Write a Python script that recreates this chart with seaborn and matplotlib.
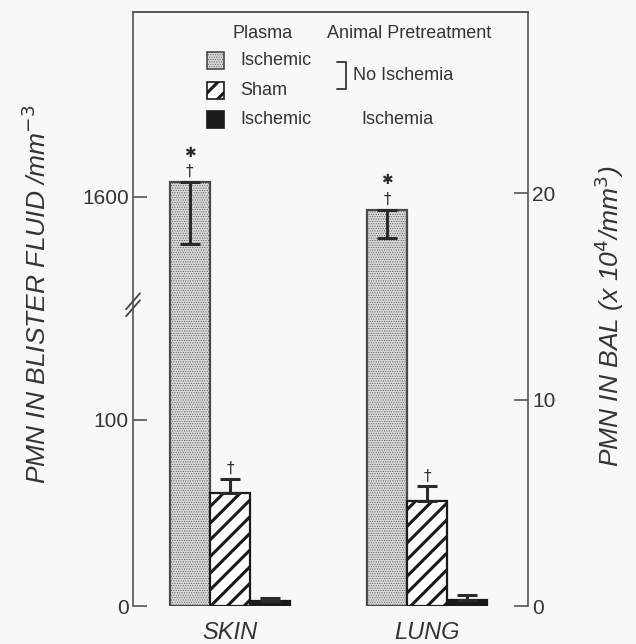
import numpy as np
import pandas as pd
import seaborn as sns
import matplotlib
matplotlib.use('Agg')
from matplotlib import pyplot as plt
from matplotlib.patches import Rectangle

sns.set_style('white')
plt.rcParams['font.family'] = ['Liberation Sans', 'DejaVu Sans']

# values
sites = ['SKIN', 'LUNG']
group_keys = ['ischemic_plasma', 'sham_plasma', 'ischemic_animal']
legend_labels = ['Ischemic', 'Sham', 'Ischemic']
skin_mean = [1660, 61, 2.5]      # PMN / mm3 in blister fluid
skin_sem = [250, 7.5, 2.0]
lung_mean = [19.2, 5.1, 0.3]     # PMN x10^4 / mm3 in BAL
lung_sem = [1.4, 0.7, 0.25]
err_side = ['down', 'up', 'up']
dagger = [True, True, False]
star = [True, False, False]
skin_ticks = [0, 100, 1600]
lung_ticks = [0, 10, 20]

ink = '#2a2a2a'
paper = '#f8f8f6'

# broken left axis: 0-100 linear, jump, then the top section around 1600
brk_v = [0, 161.8, 1168, 1600, 5000]
brk_p = [0, 301, 301.5, 409, 409 + 3400 * 0.25]


def fwd(v):
    return np.interp(v, brk_v, brk_p)


def inv(p):
    return np.interp(p, brk_p, brk_v)


bar_style = {
    'ischemic_plasma': dict(facecolor='#d8d8d8', hatch='.......', edgecolor='#4a4a4a', hlw=0.4),
    'sham_plasma': dict(facecolor='white', hatch='//', edgecolor='#1a1a1a', hlw=2.2),
    'ischemic_animal': dict(facecolor='#1a1a1a', hatch='', edgecolor='#1a1a1a', hlw=1.0),
}


def style_patch(p, key):
    st = bar_style[key]
    p.set_facecolor(st['facecolor'])
    p.set_edgecolor(st['edgecolor'])
    p.set_hatch(st['hatch'])
    if hasattr(p, 'set_hatch_linewidth'):
        p.set_hatch_linewidth(st['hlw'])


fig = plt.figure(figsize=(6.36, 6.44), dpi=100, facecolor=paper)
ax = fig.add_axes([133 / 636, 38 / 644, 395 / 636, 594 / 644])
ax.set_facecolor('none')
ax.set_yscale('function', functions=(fwd, inv))
ax2 = ax.twinx()

skin_df = pd.DataFrame({'site': 'SKIN', 'group': group_keys, 'value': skin_mean})
lung_df = pd.DataFrame({'site': 'LUNG', 'group': group_keys, 'value': lung_mean})
pal = {k: bar_style[k]['facecolor'] for k in group_keys}

for axis, df, means, sems in [(ax, skin_df, skin_mean, skin_sem), (ax2, lung_df, lung_mean, lung_sem)]:
    sns.barplot(data=df, x='site', y='value', hue='group', order=sites, hue_order=group_keys,
                palette=pal, width=0.61, errorbar=None, legend=False, saturation=1,
                linewidth=1.6, ax=axis)
    bars = sorted([p for p in axis.patches if p.get_height() > 0], key=lambda p: p.get_x())
    for bar, key, m, s, side, dg, st in zip(bars, group_keys, means, sems, err_side, dagger, star):
        style_patch(bar, key)
        xc = bar.get_x() + bar.get_width() / 2
        yerr = [[s], [0]] if side == 'down' else [[0], [s]]
        axis.errorbar(xc, m, yerr=yerr, fmt='none', ecolor=ink, elinewidth=2.2,
                      capsize=7, capthick=2.2, zorder=5)
        top = m + (s if side == 'up' else 0)
        if dg:
            axis.annotate('\u2020', (xc, top), xytext=(0, 2), textcoords='offset points',
                          ha='center', va='bottom', fontsize=11, color=ink,
                          family=['DejaVu Sans'])
        if st:
            axis.annotate('\u2731', (xc, top), xytext=(0, 16), textcoords='offset points',
                          ha='center', va='bottom', fontsize=10, color=ink,
                          family=['DejaVu Sans'])

ax.set_xlim(-0.492, 1.513)
ax.set_ylim(0, inv(594))
ax.set_yticks(skin_ticks)
ax.set_yticklabels([str(t) for t in skin_ticks])
ax2.set_ylim(0, 594 / 20.65)
ax2.set_yticks(lung_ticks)
ax2.set_yticklabels([str(t) for t in lung_ticks])

for a in (ax, ax2):
    for sp in a.spines.values():
        sp.set_color('#555555')
        sp.set_linewidth(1.2)
    a.spines['bottom'].set_visible(False)
ax.spines['right'].set_visible(False)
ax2.spines['left'].set_visible(False)

ax.tick_params(axis='y', direction='in', length=10, width=1.2, color='#555555',
               labelsize=15, pad=3, labelcolor='#333333', left=True, right=False)
ax2.tick_params(axis='y', direction='in', length=10, width=1.2, color='#555555',
                labelsize=15, pad=3, labelcolor='#333333', right=True, left=False)
ax.tick_params(axis='x', length=0, pad=11, labelsize=17, labelcolor='#333333')
for lbl in ax.get_xticklabels():
    lbl.set_style('italic')
ax.set_xlabel('')
ax2.set_xlabel('')

ax.set_ylabel('PMN IN BLISTER FLUID /mm$^{-3}$', fontsize=19, style='italic', color='#333333')
ax.yaxis.set_label_coords((37 - 133) / 395, (606 - 294) / 594)
ax.yaxis.label.set_verticalalignment('center')
ax2.set_ylabel('PMN IN BAL (x 10$^{4}$/mm$^{3}$)', fontsize=19, style='italic', color='#333333',
               rotation=90)
ax2.yaxis.set_label_coords((609 - 133) / 395, (606 - 316) / 594)
ax2.yaxis.label.set_verticalalignment('center')

# axis break marks on the left axis
yb = 301.2 / 594
for dy in (-3.5 / 594, 3.5 / 594):
    ax.plot([-7 / 395, 7 / 395], [yb + dy - 8 / 594, yb + dy + 8 / 594], transform=ax.transAxes,
            color='#444444', lw=1.3, clip_on=False, zorder=6)

# legend drawn by hand (two columns with a bracket)
txt = dict(transform=ax.transAxes, fontsize=13, color='#333333', va='center', ha='left')
ax.text(0.253, 0.963, 'Plasma', **txt)
ax.text(0.491, 0.963, 'Animal Pretreatment', **txt)
row_y = [0.918, 0.868, 0.819]
for key, lab, ry in zip(group_keys, legend_labels, row_y):
    st = bar_style[key]
    r = Rectangle((0.188, ry - 0.0145), 0.043, 0.029, transform=ax.transAxes,
                  facecolor=st['facecolor'], edgecolor=st['edgecolor'], hatch=st['hatch'],
                  linewidth=1.2, clip_on=False)
    if hasattr(r, 'set_hatch_linewidth'):
        r.set_hatch_linewidth(st['hlw'])
    ax.add_patch(r)
    ax.text(0.271, ry, lab, **txt)
ax.plot([0.516, 0.539, 0.539, 0.516], [0.916, 0.916, 0.870, 0.870], transform=ax.transAxes,
        color='#333333', lw=1.3, clip_on=False)
ax.text(0.557, 0.893, 'No Ischemia', **txt)
ax.text(0.578, 0.819, 'Ischemia', **txt)

fig.savefig('out.png', dpi=100, facecolor=fig.get_facecolor())
